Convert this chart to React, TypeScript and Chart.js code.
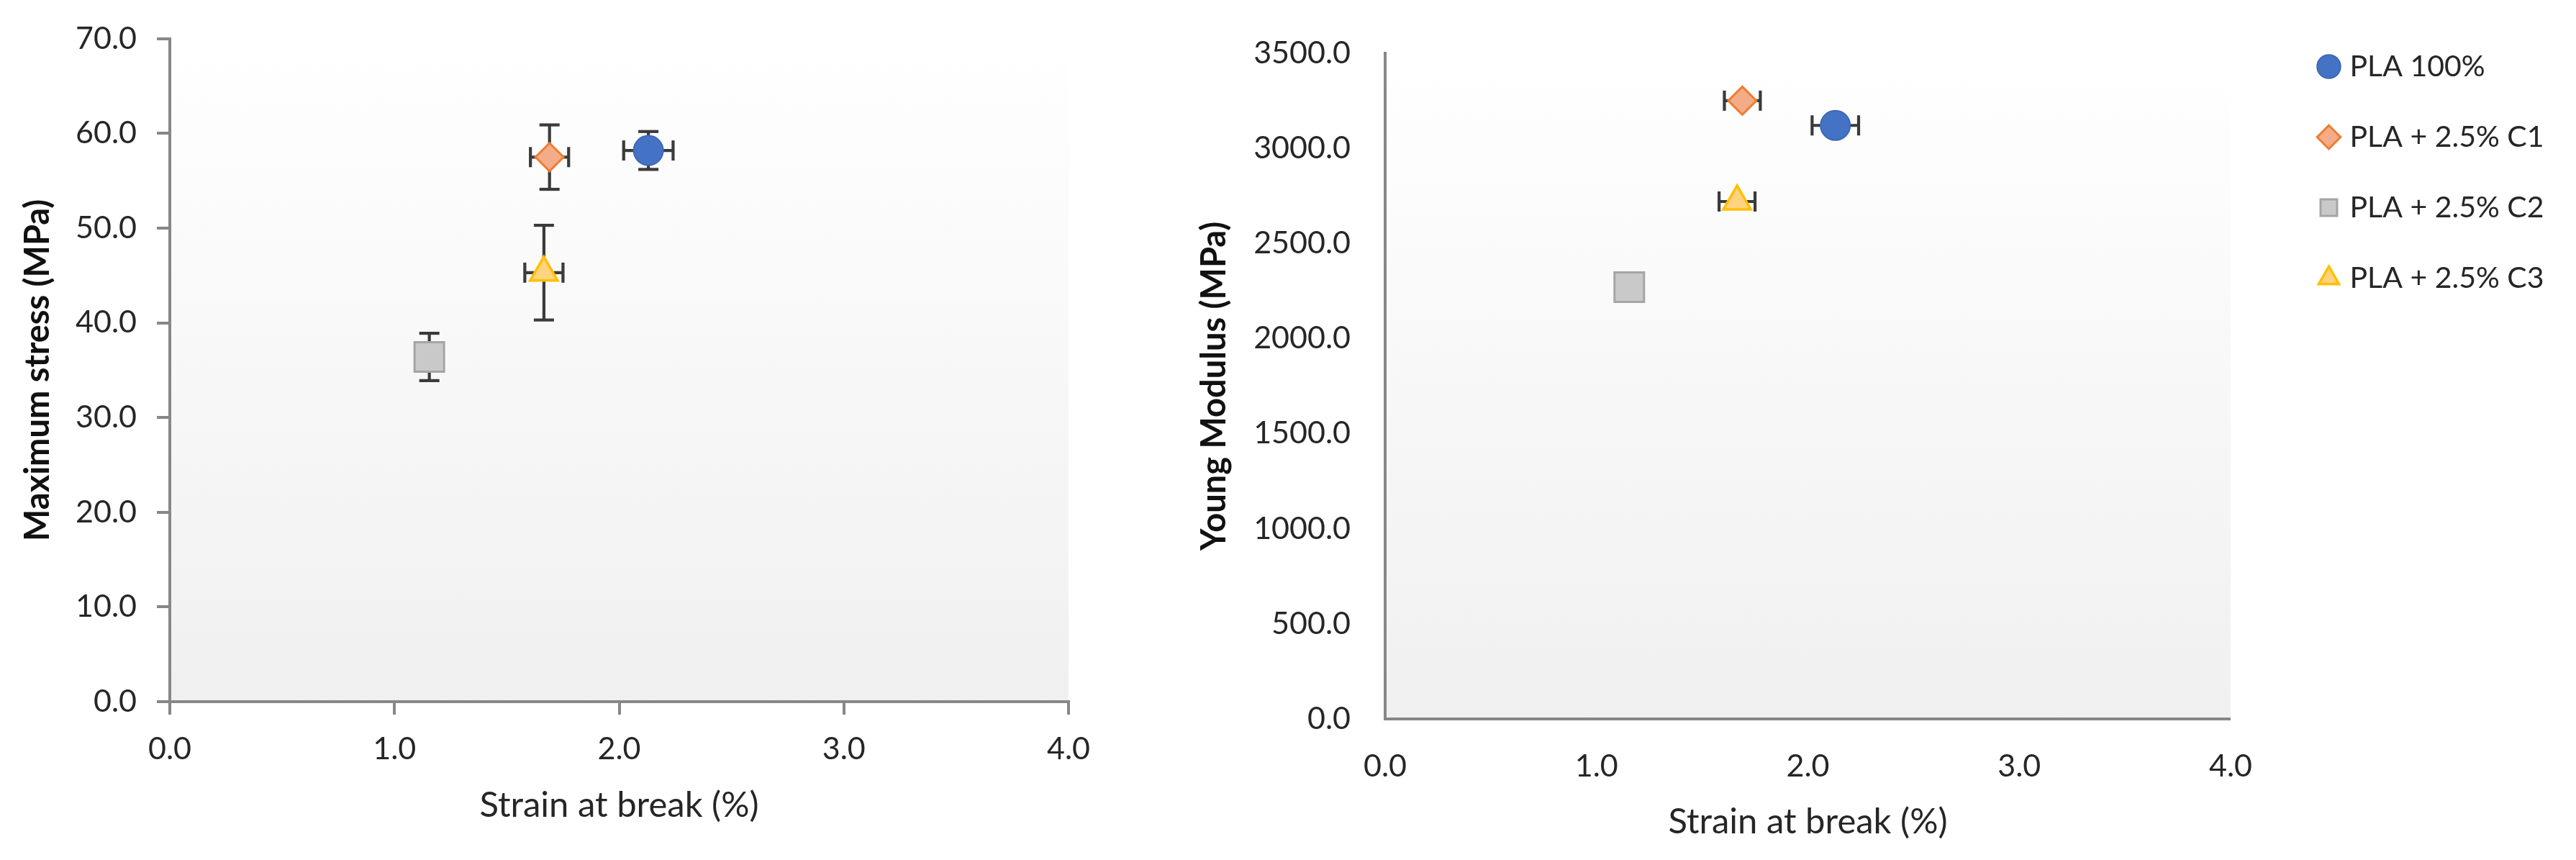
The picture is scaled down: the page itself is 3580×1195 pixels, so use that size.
import React, { useEffect, useRef } from 'react';
import { Chart, registerables } from 'chart.js';

Chart.register(...registerables);

// ---------- data ----------
const seriesLabels = ['PLA 100%', 'PLA + 2.5% C1', 'PLA + 2.5% C2', 'PLA + 2.5% C3'];
const strainAtBreak = [2.13, 1.69, 1.155, 1.665];
const strainErr = [0.11, 0.085, 0.05, 0.085];
const maxStress = [58.2, 57.5, 36.4, 45.3];
const maxStressErr = [2.0, 3.4, 2.5, 5.0];
const youngModulus = [3120, 3250, 2270, 2720];
const strainTicks = [0, 1, 2, 3, 4];
const stressTicks = [0, 10, 20, 30, 40, 50, 60, 70];
const modulusTicks = [0, 500, 1000, 1500, 2000, 2500, 3000, 3500];

// ---------- styles ----------
const pointStyles = ['circle', 'rectRot', 'rect', 'triangle'];
const fillColors = ['#4472C4', '#F4AC88', '#C9C9C9', '#FFD37F'];
const borderColors = ['#3E68B6', '#ED7D31', '#A5A5A5', '#FFC000'];
const pointRadii = [20.5, 19.5, 29, 22];
const borderWidths = [2, 3, 3, 3.5];
const FONT = 'Lato';
const AXIS = '#878787';
const TEXT = '#262626';

const plotBgPlugin = {
  id: 'plotBg',
  beforeDraw(chart: any) {
    const { ctx, chartArea: a } = chart;
    if (!a) return;
    const g = ctx.createLinearGradient(0, a.top, 0, a.bottom);
    g.addColorStop(0, '#FFFFFF');
    g.addColorStop(1, '#F0F0F0');
    ctx.save();
    ctx.fillStyle = g;
    ctx.fillRect(a.left, a.top, a.right - a.left, a.bottom - a.top);
    ctx.restore();
  },
};

const errorBarPlugin = {
  id: 'errorBars',
  beforeDatasetsDraw(chart: any) {
    const { ctx } = chart;
    const xs = chart.scales.x;
    const ys = chart.scales.y;
    const cap = 14;
    ctx.save();
    ctx.strokeStyle = '#3A3A3A';
    ctx.lineWidth = 4.2;
    ctx.lineCap = 'butt';
    const seg = (x0: number, y0: number, x1: number, y1: number) => {
      ctx.beginPath();
      ctx.moveTo(x0, y0);
      ctx.lineTo(x1, y1);
      ctx.stroke();
    };
    chart.data.datasets.forEach((ds: any, i: number) => {
      if (!chart.isDatasetVisible(i)) return;
      ds.data.forEach((pt: any, j: number) => {
        const cx = xs.getPixelForValue(pt.x);
        const cy = ys.getPixelForValue(pt.y);
        const ex = ds.xErr ? ds.xErr[j] : 0;
        const ey = ds.yErr ? ds.yErr[j] : 0;
        if (ex > 0) {
          const x0 = xs.getPixelForValue(pt.x - ex);
          const x1 = xs.getPixelForValue(pt.x + ex);
          seg(x0, cy, x1, cy);
          seg(x0, cy - cap, x0, cy + cap);
          seg(x1, cy - cap, x1, cy + cap);
        }
        if (ey > 0) {
          const y0 = ys.getPixelForValue(pt.y - ey);
          const y1 = ys.getPixelForValue(pt.y + ey);
          seg(cx, y0, cx, y1);
          seg(cx - cap, y0, cx + cap, y0);
          seg(cx - cap, y1, cx + cap, y1);
        }
      });
    });
    ctx.restore();
  },
};

function makeDatasets(yValues: number[] | null, yErr: number[] | null) {
  return seriesLabels.map((label, i) => ({
    label,
    data: yValues ? [{ x: strainAtBreak[i], y: yValues[i] }] : [],
    xErr: yValues ? [strainErr[i]] : [],
    yErr: yErr ? [yErr[i]] : null,
    pointStyle: pointStyles[i],
    backgroundColor: fillColors[i],
    borderColor: borderColors[i],
    borderWidth: borderWidths[i],
    pointRadius: pointRadii[i],
    pointHoverRadius: pointRadii[i],
  }));
}

const fmt = (v: any) => Number(v).toFixed(1);

function scatterConfig(opts: any) {
  const {
    yValues, yErr, yTicks, yTitle, padRight, padTop, yWidth, xHeight,
    withTicks, yTickPad, xTickPad, xTitlePad, yTitlePad,
  } = opts;
  const grid = withTicks
    ? { display: true, drawOnChartArea: false, drawTicks: true, tickLength: 18, lineWidth: 4, color: AXIS }
    : { display: false, drawOnChartArea: false, drawTicks: false };
  return {
    type: 'scatter',
    data: { datasets: makeDatasets(yValues, yErr) },
    plugins: [plotBgPlugin, errorBarPlugin],
    options: {
      animation: false,
      responsive: true,
      maintainAspectRatio: false,
      layout: { padding: { left: 0, right: padRight, top: padTop, bottom: 0 } },
      plugins: { legend: { display: false }, tooltip: { enabled: false } },
      scales: {
        x: {
          type: 'linear',
          min: strainTicks[0],
          max: strainTicks[strainTicks.length - 1],
          ticks: {
            stepSize: strainTicks[1] - strainTicks[0],
            callback: fmt,
            font: { family: FONT, size: 43 },
            color: TEXT,
            padding: xTickPad,
            maxRotation: 0,
          },
          grid,
          border: { display: true, color: AXIS, width: 4 },
          title: {
            display: true,
            text: 'Strain at break (%)',
            font: { family: FONT, size: 49 },
            color: '#262626',
            padding: { top: 0, bottom: xTitlePad },
          },
          afterFit: (s: any) => { s.height = xHeight; },
        },
        y: {
          type: 'linear',
          min: yTicks[0],
          max: yTicks[yTicks.length - 1],
          ticks: {
            stepSize: yTicks[1] - yTicks[0],
            callback: fmt,
            font: { family: FONT, size: 43 },
            color: TEXT,
            padding: yTickPad,
          },
          grid,
          border: { display: true, color: AXIS, width: 4 },
          title: {
            display: true,
            text: yTitle,
            font: { family: FONT, size: 47, weight: 'bold' },
            color: '#111111',
            padding: { top: yTitlePad, bottom: 0 },
          },
          afterFit: (s: any) => { s.width = yWidth; },
        },
      },
    },
  };
}

export default function App() {
  const leftRef = useRef<HTMLCanvasElement>(null);
  const rightRef = useRef<HTMLCanvasElement>(null);
  const legendRef = useRef<HTMLCanvasElement>(null);

  useEffect(() => {
    document.body.style.margin = '0';
    const left = new Chart(leftRef.current as any, scatterConfig({
      yValues: maxStress, yErr: maxStressErr, yTicks: stressTicks,
      yTitle: 'Maximum stress (MPa)', padRight: 75, padTop: 52,
      yWidth: 236, xHeight: 220, withTicks: true,
      yTickPad: 28, xTickPad: 22, xTitlePad: 46, yTitlePad: 25,
    }) as any);
    const right = new Chart(rightRef.current as any, scatterConfig({
      yValues: youngModulus, yErr: null, yTicks: modulusTicks,
      yTitle: 'Young Modulus (MPa)', padRight: 55, padTop: 45,
      yWidth: 365, xHeight: 196, withTicks: false,
      yTickPad: 48, xTickPad: 40, xTitlePad: 23, yTitlePad: 100,
    }) as any);
    const legend = new Chart(legendRef.current as any, {
      type: 'scatter',
      data: { datasets: makeDatasets(null, null) as any },
      options: {
        animation: false,
        responsive: true,
        maintainAspectRatio: false,
        layout: { padding: 0 },
        scales: { x: { display: false }, y: { display: false } },
        plugins: {
          tooltip: { enabled: false },
          legend: {
            display: true,
            position: 'left',
            align: 'start',
            labels: {
              usePointStyle: true,
              boxWidth: 17,
              boxHeight: 23,
              padding: 57,
              font: { family: FONT, size: 41 },
              color: '#262626',
            },
          },
        },
      },
    } as any);
    return () => {
      left.destroy();
      right.destroy();
      legend.destroy();
    };
  }, []);

  const box = (l: number, t: number, w: number, h: number): React.CSSProperties => ({
    position: 'absolute', left: l, top: t, width: w, height: h,
  });

  return (
    <div style={{ position: 'absolute', left: 0, top: 0, width: 3580, height: 1195, background: '#ffffff', overflow: 'hidden' }}>
      <div style={box(0, 0, 1560, 1195)}><canvas ref={leftRef} /></div>
      <div style={box(1560, 0, 1610, 1195)}><canvas ref={rightRef} /></div>
      <div style={box(3171, 15, 960, 560)}><canvas ref={legendRef} /></div>
    </div>
  );
}
